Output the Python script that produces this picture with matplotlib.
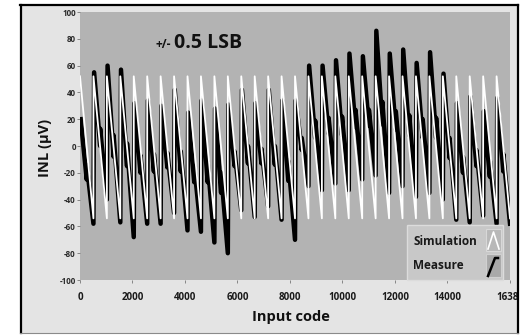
import numpy as np
import matplotlib
matplotlib.use("Agg")
import matplotlib.pyplot as plt
from matplotlib.patches import Rectangle
from matplotlib.lines import Line2D

plt.rcParams['font.family'] = ['Open Sans', 'DejaVu Sans']
plt.rcParams['axes.unicode_minus'] = False

# ---------------- data ----------------
code_period = 512          # codes per segment (tooth)
n_teeth = 32
code_max = 16383

# simulation sawtooth levels (uV)
sim_peak = 52
sim_trough = -54

# measured INL, per tooth: peak, value before sub-step, value after sub-step, trough (uV)
meas_peak = [20, 55, 60, 57, 32, 34, 30, 42, 25, 34, 28, 31, 42, 32, 42, 34,
             34, 60, 60, 64, 69, 67, 86, 69, 72, 62, 70, 54, 32, 37, 26, 36]
meas_mid_lo = [-25, 0, -8, -15, -20, -19, -16, -19, -27, -27, -35, -15, -13, -13, -14, -26,
               -3, 6, 9, 8, 14, 15, 16, 12, 8, 6, 6, -9, -20, -15, -23, -19]
meas_mid_hi = [-14, 13, 8, 2, -7, -6, -5, -4, -15, -12, -20, -4, 0, -2, 0, -11,
               6, 19, 21, 22, 27, 27, 33, 26, 23, 20, 21, 6, -8, -3, -11, -6]
meas_trough = [-58, -40, -57, -68, -58, -58, -50, -63, -64, -72, -80, -48, -53, -45, -55, -70,
               -30, -33, -28, -33, -25, -22, -35, -30, -38, -35, -40, -55, -57, -52, -58, -58]

x_ticks = [0, 2000, 4000, 6000, 8000, 10000, 12000, 14000, 16383]
y_ticks = [-100, -80, -60, -40, -20, 0, 20, 40, 60, 80, 100]

# ---------------- build polylines ----------------
sim_x, sim_y = [], []
for k in range(n_teeth):
    start = k * code_period
    end = min((k + 1) * code_period, code_max)
    sim_x += [start, end]
    sim_y += [sim_peak, sim_trough]

# sub-step positions within a tooth (fraction of the segment)
f_peak, f_step, f_end = 0.05, 0.50, 1.0
meas_x, meas_y = [], []
for k in range(n_teeth):
    s = k * code_period
    meas_x += [s + f_peak * code_period, s + f_step * code_period,
               s + f_step * code_period, min(s + f_end * code_period, code_max)]
    meas_y += [meas_peak[k], meas_mid_lo[k], meas_mid_hi[k], meas_trough[k]]

# ---------------- figure ----------------
W, H = 522, 335
fig = plt.figure(figsize=(W / 100, H / 100), dpi=100)
fig.patch.set_facecolor('white')

def fx(px):
    return px / W

def fy(py):
    return 1 - py / H

panel = Rectangle((fx(20), fy(333)), fx(517) - fx(20), fy(5) - fy(333),
                  transform=fig.transFigure, facecolor='#e4e4e4', edgecolor='none', zorder=-5)
fig.patches.append(panel)
for xs, ys, c, w in [([20.5, 20.5], [333, 5], 'black', 1.6),
                     ([20, 517.5], [5, 5], 'black', 1.6),
                     ([517.5, 517.5], [333, 5], 'black', 1.6),
                     ([20, 517.5], [332.5, 332.5], '#8a8a8a', 0.8)]:
    fig.lines.append(Line2D([fx(v) for v in xs], [fy(v) for v in ys],
                            transform=fig.transFigure, color=c, lw=w, zorder=-4))

ax = fig.add_axes([fx(80), fy(280), fx(510) - fx(80), fy(12) - fy(280)])
ax.set_zorder(1)
ax.set_facecolor('#b3b3b3')
for s in ax.spines.values():
    s.set_visible(False)

ax.plot(meas_x, meas_y, color='black', lw=3.2, solid_joinstyle='round', zorder=2)
ax.plot(sim_x, sim_y, color='white', lw=1.3, solid_joinstyle='round', zorder=3)

ax.set_xlim(0, code_max)
ax.set_ylim(-100, 100)
ax.set_xticks(x_ticks)
ax.set_xticklabels([str(t) for t in x_ticks])
ax.set_yticks(y_ticks)
ax.set_yticklabels([str(t) for t in y_ticks])
ax.tick_params(axis='x', length=2.5, width=0.6, color='#777777', pad=6,
               labelsize=7, labelcolor='#1a1a1a')
ax.tick_params(axis='y', length=2, width=0.6, color='#777777', pad=1,
               labelsize=5.8, labelcolor='#2a2a2a')
for lab in ax.get_xticklabels() + ax.get_yticklabels():
    lab.set_fontweight('bold')

clip_rect = Rectangle((fx(20), fy(333)), fx(517) - fx(20), fy(5) - fy(333),
                      transform=fig.transFigure, facecolor='none', edgecolor='none')
for lab in ax.get_xticklabels():
    lab.set_clip_path(clip_rect)
    lab.set_clip_on(True)

fig.text(fx(291), fy(321), 'Input code', ha='center', va='baseline',
         fontsize=10.5, fontweight='bold', color='#111111')
fig.text(fx(45), fy(148), 'INL (μV)', ha='center', va='center', rotation=90,
         fontsize=10.5, fontweight='bold', color='#111111')

# annotation
fig.text(fx(156), fy(48), '+/-', ha='left', va='baseline', fontsize=8.5,
         fontweight='bold', color='#111111', zorder=6)
fig.text(fx(174), fy(48), '0.5 LSB', ha='left', va='baseline', fontsize=14,
         fontweight='bold', color='#111111', zorder=6)

# legend box
lx0, ly0, lx1, ly1 = 407, 225, 503, 280
fig.patches.append(Rectangle((fx(lx0), fy(ly1)), fx(lx1) - fx(lx0), fy(ly0) - fy(ly1),
                             transform=fig.transFigure, facecolor='#c8c8c8',
                             edgecolor='#dcdcdc', lw=1.0, zorder=5))
fig.patches.append(Rectangle((fx(486), fy(251)), fx(501) - fx(486), fy(229) - fy(251),
                             transform=fig.transFigure, facecolor='#b8b8b8',
                             edgecolor='#d8d8d8', lw=0.8, zorder=6))
fig.patches.append(Rectangle((fx(486), fy(277)), fx(501) - fx(486), fy(254) - fy(277),
                             transform=fig.transFigure, facecolor='#a9a9a9',
                             edgecolor='#d0d0d0', lw=0.8, zorder=6))
fig.lines.append(Line2D([fx(488), fx(493.5), fx(499)], [fy(249), fy(232), fy(249)],
                        transform=fig.transFigure, color='white', lw=1.2, zorder=7))
fig.lines.append(Line2D([fx(488), fx(495), fx(498)], [fy(276), fy(258), fy(258)],
                        transform=fig.transFigure, color='black', lw=1.8, zorder=7))
fig.text(fx(413), fy(245), 'Simulation', ha='left', va='baseline', fontsize=8.5,
         fontweight='bold', color='#1a1a1a', zorder=7)
fig.text(fx(413), fy(269), 'Measure', ha='left', va='baseline', fontsize=8.5,
         fontweight='bold', color='#1a1a1a', zorder=7)

fig.savefig('out.png', dpi=100, facecolor=fig.get_facecolor())
